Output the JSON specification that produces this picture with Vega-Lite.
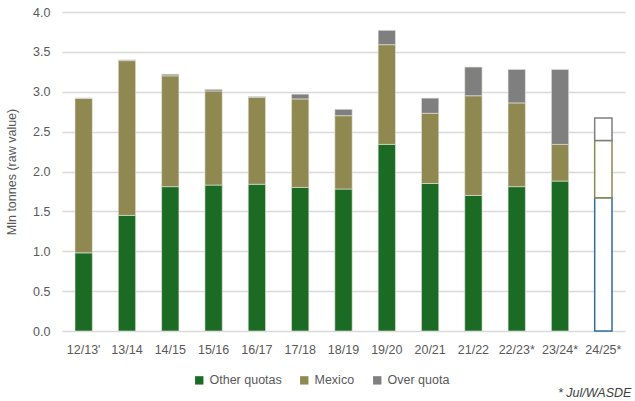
{
  "$schema": "https://vega.github.io/schema/vega-lite/v6.json",
  "width": 563,
  "height": 319,
  "autosize": {"type": "none"},
  "padding": {"left": 62, "top": 12, "right": 10, "bottom": 70},
  "background": "white",
  "title": {
    "text": "* Jul/WASDE",
    "orient": "bottom",
    "anchor": "end",
    "frame": "group",
    "align": "left",
    "dx": -67,
    "offset": 0,
    "baseline": "top",
    "font": "Liberation Sans",
    "fontSize": 12.5,
    "fontStyle": "italic",
    "fontWeight": "normal",
    "color": "#404040"
  },
  "config": {
    "view": {"stroke": null},
    "font": "Liberation Sans",
    "axis": {"labelFont": "Liberation Sans", "titleFont": "Liberation Sans", "labelColor": "#595959", "titleColor": "#595959"},
    "legend": {"labelFont": "Liberation Sans", "labelColor": "#595959"}
  },
  "data": {
    "values": [
      {"year": "12/13'", "series": "Other quotas", "ord": 1, "value": 0.98, "forecast": false},
      {"year": "12/13'", "series": "Mexico", "ord": 2, "value": 1.94, "forecast": false},
      {"year": "12/13'", "series": "Over quota", "ord": 3, "value": 0.0, "forecast": false},
      {"year": "13/14", "series": "Other quotas", "ord": 1, "value": 1.45, "forecast": false},
      {"year": "13/14", "series": "Mexico", "ord": 2, "value": 1.94, "forecast": false},
      {"year": "13/14", "series": "Over quota", "ord": 3, "value": 0.01, "forecast": false},
      {"year": "14/15", "series": "Other quotas", "ord": 1, "value": 1.81, "forecast": false},
      {"year": "14/15", "series": "Mexico", "ord": 2, "value": 1.39, "forecast": false},
      {"year": "14/15", "series": "Over quota", "ord": 3, "value": 0.02, "forecast": false},
      {"year": "15/16", "series": "Other quotas", "ord": 1, "value": 1.83, "forecast": false},
      {"year": "15/16", "series": "Mexico", "ord": 2, "value": 1.18, "forecast": false},
      {"year": "15/16", "series": "Over quota", "ord": 3, "value": 0.02, "forecast": false},
      {"year": "16/17", "series": "Other quotas", "ord": 1, "value": 1.84, "forecast": false},
      {"year": "16/17", "series": "Mexico", "ord": 2, "value": 1.09, "forecast": false},
      {"year": "16/17", "series": "Over quota", "ord": 3, "value": 0.01, "forecast": false},
      {"year": "17/18", "series": "Other quotas", "ord": 1, "value": 1.80, "forecast": false},
      {"year": "17/18", "series": "Mexico", "ord": 2, "value": 1.11, "forecast": false},
      {"year": "17/18", "series": "Over quota", "ord": 3, "value": 0.06, "forecast": false},
      {"year": "18/19", "series": "Other quotas", "ord": 1, "value": 1.78, "forecast": false},
      {"year": "18/19", "series": "Mexico", "ord": 2, "value": 0.92, "forecast": false},
      {"year": "18/19", "series": "Over quota", "ord": 3, "value": 0.08, "forecast": false},
      {"year": "19/20", "series": "Other quotas", "ord": 1, "value": 2.34, "forecast": false},
      {"year": "19/20", "series": "Mexico", "ord": 2, "value": 1.25, "forecast": false},
      {"year": "19/20", "series": "Over quota", "ord": 3, "value": 0.18, "forecast": false},
      {"year": "20/21", "series": "Other quotas", "ord": 1, "value": 1.85, "forecast": false},
      {"year": "20/21", "series": "Mexico", "ord": 2, "value": 0.88, "forecast": false},
      {"year": "20/21", "series": "Over quota", "ord": 3, "value": 0.19, "forecast": false},
      {"year": "21/22", "series": "Other quotas", "ord": 1, "value": 1.70, "forecast": false},
      {"year": "21/22", "series": "Mexico", "ord": 2, "value": 1.25, "forecast": false},
      {"year": "21/22", "series": "Over quota", "ord": 3, "value": 0.36, "forecast": false},
      {"year": "22/23*", "series": "Other quotas", "ord": 1, "value": 1.81, "forecast": false},
      {"year": "22/23*", "series": "Mexico", "ord": 2, "value": 1.05, "forecast": false},
      {"year": "22/23*", "series": "Over quota", "ord": 3, "value": 0.42, "forecast": false},
      {"year": "23/24*", "series": "Other quotas", "ord": 1, "value": 1.88, "forecast": false},
      {"year": "23/24*", "series": "Mexico", "ord": 2, "value": 0.46, "forecast": false},
      {"year": "23/24*", "series": "Over quota", "ord": 3, "value": 0.94, "forecast": false},
      {"year": "24/25*", "series": "Other quotas", "ord": 1, "value": 1.67, "forecast": true},
      {"year": "24/25*", "series": "Mexico", "ord": 2, "value": 0.72, "forecast": true},
      {"year": "24/25*", "series": "Over quota", "ord": 3, "value": 0.28, "forecast": true}
    ]
  },
  "encoding": {
    "x": {
      "field": "year",
      "type": "nominal",
      "sort": null,
      "scale": {"paddingInner": 0.6, "paddingOuter": 0.3},
      "axis": {"title": null, "labelAngle": 0, "domain": false, "ticks": false, "labelPadding": 12, "labelFontSize": 12.5, "grid": false}
    },
    "y": {
      "field": "value",
      "type": "quantitative",
      "stack": "zero",
      "scale": {"domain": [0, 4], "nice": false},
      "axis": {
        "title": "Mln tonnes (raw value)",
        "titleFontSize": 12.5,
        "titleFontWeight": "normal",
        "titlePadding": 14,
        "values": [0, 0.5, 1, 1.5, 2, 2.5, 3, 3.5, 4],
        "format": ".1f",
        "labelFontSize": 12.5,
        "labelPadding": 12,
        "domain": false,
        "ticks": false,
        "gridColor": "#D9D9D9",
        "gridWidth": 1.5
      }
    },
    "order": {"field": "ord", "type": "quantitative"}
  },
  "layer": [
    {
      "transform": [{"filter": "!datum.forecast"}],
      "mark": {"type": "bar", "stroke": "#E8E8E0", "strokeWidth": 0.6},
      "encoding": {
        "color": {
          "field": "series",
          "type": "nominal",
          "scale": {"domain": ["Other quotas", "Mexico", "Over quota"], "range": ["#1B6B24", "#8F8850", "#7F7F7F"]},
          "legend": {
            "title": null,
            "orient": "none",
            "direction": "horizontal",
            "legendX": 131,
            "legendY": 362,
            "symbolType": "square",
            "symbolSize": 70,
            "symbolStrokeWidth": 0,
            "labelFontSize": 12.5,
            "labelOffset": 4,
            "columnPadding": 16
          }
        }
      }
    },
    {
      "transform": [{"filter": "datum.forecast"}],
      "mark": {"type": "bar", "fill": "white", "strokeWidth": 1.5},
      "encoding": {
        "stroke": {
          "field": "series",
          "type": "nominal",
          "scale": {"domain": ["Other quotas", "Mexico", "Over quota"], "range": ["#2E6E9E", "#8F8850", "#7F7F7F"]},
          "legend": null
        }
      }
    }
  ]
}
